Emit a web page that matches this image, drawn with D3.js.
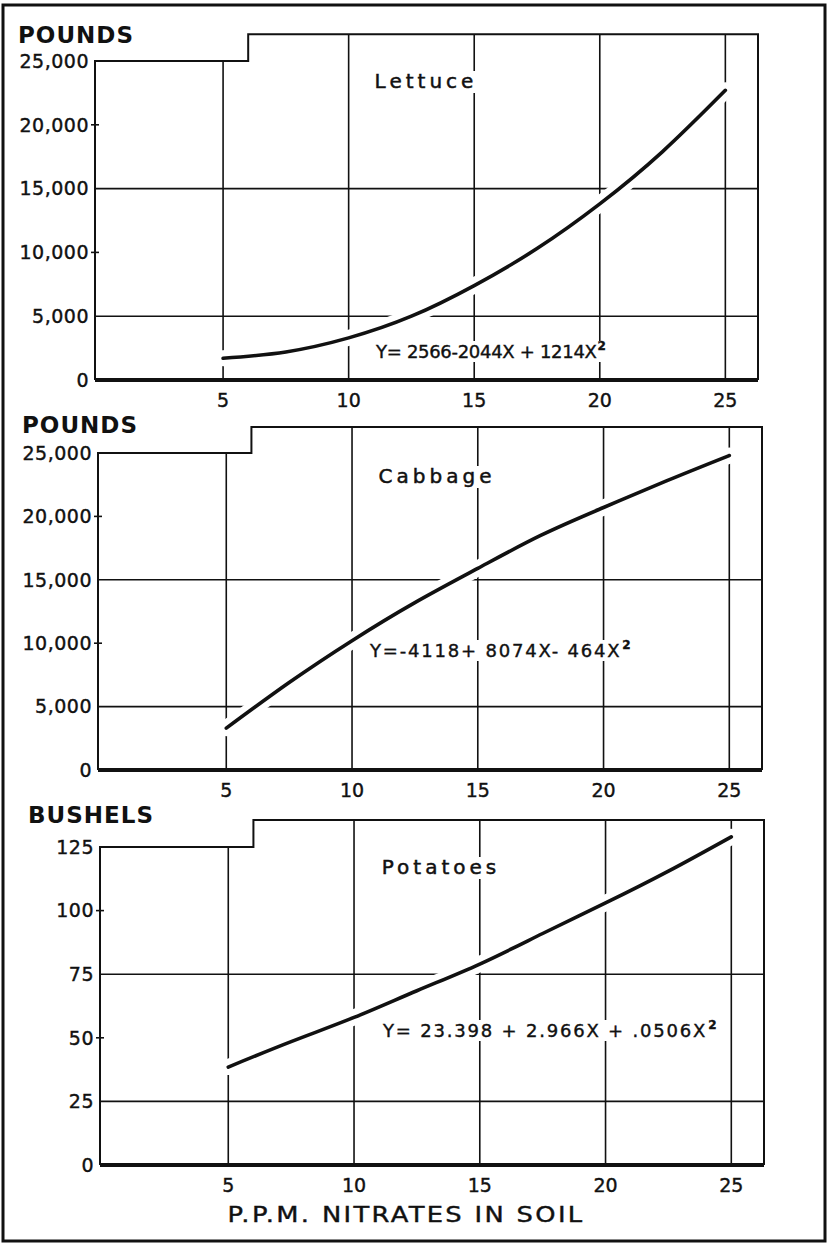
<!DOCTYPE html>
<html>
<head>
<meta charset="utf-8">
<script src="https://cdn.jsdelivr.net/npm/d3@7"></script>
<style>
  body { margin: 0; background: #fff; }
  svg text { font-family: "DejaVu Sans", sans-serif; fill: #111; }
</style>
</head>
<body>
<svg id="chart" width="836" height="1245"></svg>
<script>
// data
var ppm = [5, 7.5, 10, 12.5, 15, 17.5, 20, 22.5, 25];
var lettuce = [1700, 2200, 3300, 5000, 7400, 10300, 13800, 17900, 22700];
var cabbage = [3300, 6900, 10200, 13200, 15900, 18500, 20700, 22800, 24800];
var potatoes = [38.5, 48.5, 58, 68.5, 79, 91, 103, 115.5, 129];

var xTicks = [5, 10, 15, 20, 25];
var poundTicks = [0, 5000, 10000, 15000, 20000, 25000];
var bushelTicks = [0, 25, 50, 75, 100, 125];
var poundGrid = [5000, 15000];
var bushelGrid = [25, 75];

// panel layout
var panels = [
	{ unit: "POUNDS", title: "Lettuce", eq: "Y= 2566-2044X + 1214X", values: lettuce,
	  ticks: poundTicks, grid: poundGrid, max: 25000, step: 27100,
	  left: 95, right: 758, top: 61, bottom: 380,
	  unitX: 18, unitY: 43, titleX: 426, titleY: 88, eqX: 376, eqY: 358, eqSp: -0.3 },
	{ unit: "POUNDS", title: "Cabbage", eq: "Y=-4118+ 8074X- 464X", values: cabbage,
	  ticks: poundTicks, grid: poundGrid, max: 25000, step: 27050,
	  left: 98, right: 762, top: 453, bottom: 770,
	  unitX: 22, unitY: 433, titleX: 437, titleY: 483, eqX: 370, eqY: 657, eqSp: 1.8 },
	{ unit: "BUSHELS", title: "Potatoes", eq: "Y= 23.398 + 2.966X + .0506X", values: potatoes,
	  ticks: bushelTicks, grid: bushelGrid, max: 125, step: 135.6,
	  left: 100, right: 764, top: 847, bottom: 1165,
	  unitX: 28, unitY: 823, titleX: 441, titleY: 874, eqX: 383, eqY: 1037, eqSp: 1.8 }
];

var svg = d3.select("#chart");
var fmt = d3.format(",");

// white box behind a label so grid lines break around it
function blankBehind(g, t, pad) {
	var b = t.node().getBBox();
	g.insert("rect", function() { return t.node(); })
		.attr("x", b.x - pad).attr("y", b.y + 2)
		.attr("width", b.width + 2 * pad).attr("height", b.height - 2)
		.attr("fill", "#fff");
}

// outer frame
svg.append("rect")
	.attr("x", 3).attr("y", 5)
	.attr("width", 822).attr("height", 1236)
	.attr("fill", "none").attr("stroke", "#111").attr("stroke-width", 3);

panels.forEach(function(p) {
	var x = d3.scaleLinear().domain([-0.1, 26.3]).range([p.left, p.right]);
	var y = d3.scaleLinear().domain([0, p.max]).range([p.bottom, p.top]);
	var g = svg.append("g");

	// horizontal grid lines
	g.selectAll(".hg").data(p.grid).enter().append("line")
		.attr("x1", p.left).attr("x2", p.right)
		.attr("y1", function(d) { return y(d); })
		.attr("y2", function(d) { return y(d); })
		.attr("stroke", "#111").attr("stroke-width", 1.6);

	// vertical grid lines (x=5 stops at the lower step)
	g.selectAll(".vg").data(xTicks).enter().append("line")
		.attr("x1", function(d) { return x(d); })
		.attr("x2", function(d) { return x(d); })
		.attr("y1", p.bottom)
		.attr("y2", function(d) { return d < 6 ? y(p.max) : y(p.step); })
		.attr("stroke", "#111").attr("stroke-width", 1.6);

	// y ticks without grid
	g.selectAll(".yt").data(p.ticks.filter(function(d) { return d > 0 && d < p.max && p.grid.indexOf(d) < 0; }))
		.enter().append("line")
		.attr("x1", p.left - 4).attr("x2", p.left + 4)
		.attr("y1", function(d) { return y(d); })
		.attr("y2", function(d) { return y(d); })
		.attr("stroke", "#111").attr("stroke-width", 1.6);

	// curve: white halo then line
	var line = d3.line()
		.x(function(d, i) { return x(ppm[i]); })
		.y(function(d) { return y(d); })
		.curve(d3.curveNatural);

	g.append("path").datum(p.values)
		.attr("d", line)
		.attr("fill", "none").attr("stroke", "#fff").attr("stroke-width", 16)
		.attr("stroke-linecap", "round");

	// frame with step at x = 6
	var frame = [[-0.1, 0], [-0.1, p.max], [6, p.max], [6, p.step], [26.3, p.step], [26.3, 0]];
	g.append("path")
		.attr("d", d3.line().x(function(d) { return x(d[0]); }).y(function(d) { return y(d[1]); })(frame))
		.attr("fill", "none").attr("stroke", "#111").attr("stroke-width", 2);

	// base line
	g.append("line")
		.attr("x1", p.left).attr("x2", p.right)
		.attr("y1", p.bottom).attr("y2", p.bottom)
		.attr("stroke", "#111").attr("stroke-width", 4);

	g.append("path").datum(p.values)
		.attr("d", line)
		.attr("fill", "none").attr("stroke", "#111").attr("stroke-width", 3.6)
		.attr("stroke-linecap", "round");

	// tick labels
	g.selectAll(".yl").data(p.ticks).enter().append("text")
		.attr("x", p.left - 6)
		.attr("y", function(d) { return y(d); })
		.attr("dy", "0.36em")
		.attr("text-anchor", "end")
		.style("font-size", "19px")
		.style("letter-spacing", "0.5px")
		.attr("stroke", "#111").attr("stroke-width", 0.4)
		.text(function(d) { return fmt(d); });

	g.selectAll(".xl").data(xTicks).enter().append("text")
		.attr("x", function(d) { return x(d); })
		.attr("y", p.bottom + 27)
		.attr("text-anchor", "middle")
		.style("font-size", "19px")
		.attr("stroke", "#111").attr("stroke-width", 0.4)
		.text(function(d) { return d; });

	// unit label
	g.append("text")
		.attr("x", p.unitX).attr("y", p.unitY)
		.style("font-size", "23px").style("font-weight", "bold")
		.style("letter-spacing", "1px")
		.text(p.unit);

	// crop title
	var tt = g.append("text")
		.attr("x", p.titleX).attr("y", p.titleY)
		.attr("text-anchor", "middle")
		.style("font-size", "20px")
		.style("letter-spacing", "4px")
		.attr("stroke", "#111").attr("stroke-width", 0.5)
		.text(p.title);
	blankBehind(g, tt, 6);

	// equation
	var eq = g.append("text")
		.attr("x", p.eqX).attr("y", p.eqY)
		.style("font-size", "18px")
		.style("letter-spacing", p.eqSp + "px")
		.attr("stroke", "#111").attr("stroke-width", 0.4);
	eq.append("tspan").text(p.eq);
	eq.append("tspan").attr("dx", 1).attr("dy", -8)
		.style("font-size", "12px").style("font-weight", "bold").style("letter-spacing", "0px")
		.text("2");
	blankBehind(g, eq, 5);
});

// x axis title
svg.append("text")
	.attr("x", 406).attr("y", 1222)
	.attr("text-anchor", "middle")
	.attr("textLength", 357).attr("lengthAdjust", "spacingAndGlyphs")
	.style("font-size", "22px")
	.style("letter-spacing", "2px")
	.attr("stroke", "#111").attr("stroke-width", 0.4)
	.text("P.P.M. NITRATES IN SOIL");
</script>
</body>
</html>
